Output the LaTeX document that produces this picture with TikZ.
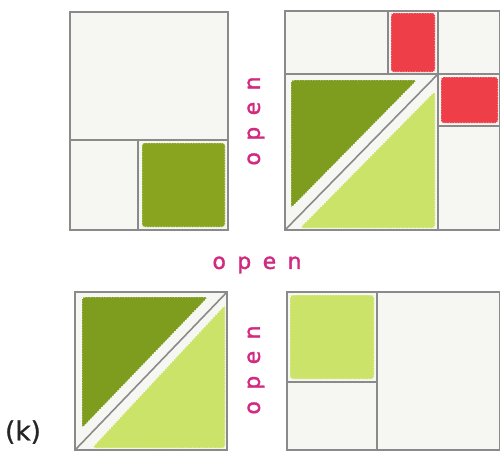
\documentclass[tikz,border=0pt]{standalone}
\usepackage{fontspec}
\setsansfont{DejaVu Sans}
\definecolor{cPanel}{HTML}{F6F6F3}
\definecolor{cEdge}{HTML}{8A8A8A}
\definecolor{cDark}{HTML}{7E9C1E}
\definecolor{cOlive}{HTML}{89A520}
\definecolor{cLight}{HTML}{CCE36A}
\definecolor{cRed}{HTML}{EE3E48}
\definecolor{cOpen}{HTML}{D12A80}
\newcommand{\openword}{o\hspace{6.5pt}p\hspace{6.5pt}e\hspace{6.5pt}n}

\begin{document}
\begin{tikzpicture}[
  x=0.02cm, y=-0.02cm,
  panel/.style={fill=cPanel, draw=cEdge, line width=0.9pt},
  divider/.style={draw=cEdge, line width=0.9pt},
  patch/.style={rounded corners=1.5pt, draw=white, line width=0.5pt, densely dotted},
  word/.style={font=\sffamily\fontsize{12.5}{14}\selectfont\addfontfeature{FakeBold=1.5},
               text=cOpen, inner sep=0pt},
]
\useasboundingbox (0,0) rectangle (500,451);

% ---- top left: one olive cell ------------------------------------------
\draw[panel] (70,12) rectangle (228,230);
\draw[divider] (70,140) -- (228,140);
\draw[divider] (138,140) -- (138,230);
\path[patch, fill=cOlive] (142,143) rectangle (225,227);

% ---- top right: split square and two red cells -------------------------
\draw[panel] (285,11) rectangle (500,230);
\draw[divider] (285,74) -- (500,74);
\draw[divider] (388,11) -- (388,74);
\draw[divider] (438,11) -- (438,230);
\draw[divider] (438,126) -- (500,126);
\draw[divider] (285,230) -- (438,74);
\path[patch, fill=cRed] (391,13) rectangle (435,72);
\path[patch, fill=cRed] (441,77) rectangle (498,123);
\path[patch, fill=cDark] (291,80) -- (417,80) -- (291,208) -- cycle;
\path[patch, fill=cLight] (300,228) -- (435,228) -- (435,91) -- cycle;

% ---- bottom left: split square -----------------------------------------
\draw[panel] (75,292) rectangle (227,450);
\draw[divider] (75,450) -- (227,292);
\path[patch, fill=cDark] (82,297) -- (208,297) -- (82,428) -- cycle;
\path[patch, fill=cLight] (92,448) -- (225,448) -- (225,305) -- cycle;

% ---- bottom right: one light cell --------------------------------------
\draw[panel] (287,292) rectangle (500,450);
\draw[divider] (377,292) -- (377,450);
\draw[divider] (287,382) -- (377,382);
\path[patch, fill=cLight] (290,295) rectangle (374,379);

% ---- labels -------------------------------------------------------------
\node[word, rotate=90] (openA) at (256,121) {\openword};
\node[word] (openB) at (257,265) {\openword};
\node[word, rotate=90] (openC) at (256,370) {\openword};
\node[font=\sffamily\fontsize{15}{17}\selectfont\addfontfeature{FakeBold=1}, text=black!85]
  (tag) at (23,432) {(k)};

\end{tikzpicture}
\end{document}
